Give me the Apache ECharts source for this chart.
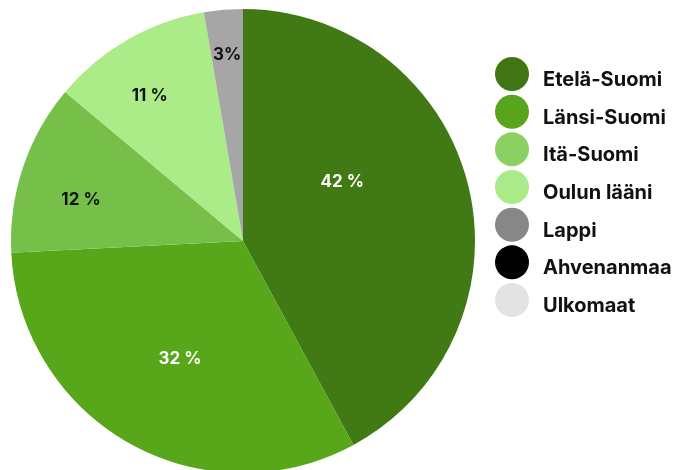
<!DOCTYPE html>
<html>
<head>
<meta charset="utf-8">
<script src="https://cdn.jsdelivr.net/npm/echarts@6/dist/echarts.min.js"></script>
<style>
html,body{margin:0;padding:0;background:#fff;}
#c{width:679px;height:470px;}
</style>
</head>
<body>
<div id="c"></div>
<script>
// ---- data ----
const categories = ['Etelä-Suomi', 'Länsi-Suomi', 'Itä-Suomi', 'Oulun lääni', 'Lappi', 'Ahvenanmaa', 'Ulkomaat'];
const values = [42.1, 32.1, 11.9, 11.2, 2.7, 0, 0];
const labelTexts = ['42 %', '32 %', '12 %', '11 %', '3%', '', ''];

// ---- style ----
const sliceColors = ['#417a14', '#58a61a', '#76c04a', '#acec88', '#a6a6a6', '#000000', '#e3e3e3'];
const legendColors = ['#3f7512', '#58a41a', '#8bd162', '#abea89', '#878787', '#000000', '#e3e3e3'];
const labelColors = ['#ffffff', '#ffffff', '#111111', '#111111', '#111111', '#111111', '#111111'];
const labelRadiusFrac = [0.497, 0.577, 0.72, 0.745, 0.805, 0.8, 0.8];
const labelAngleShift = [-16.4, -1.3, -4.4, -2.8, 0, 0, 0];
const CX = 243, CY = 241, R = 232;
const FONT = 'Inter, Roboto, "Noto Sans", sans-serif';

const total = values.reduce((a, b) => a + b, 0);
const midAngles = [];
let acc = 0;
values.forEach(v => { midAngles.push((acc + v / 2) / total * 360); acc += v; });

const legendBase = {
  orient: 'vertical',
  left: 495,
  padding: 0,
  icon: 'circle',
  itemWidth: 34,
  itemHeight: 34,
  itemGap: 3.67,
  selectedMode: false,
  textStyle: {fontFamily: FONT, fontWeight: 'bold', fontSize: 20, color: '#111111', padding: [0, 0, 0, 9]}
};

const chart = echarts.init(document.getElementById('c'), null, {renderer: 'canvas'});
chart.setOption({
  animation: false,
  backgroundColor: '#ffffff',
  legend: [
    Object.assign({}, legendBase, {
      top: 57,
      formatter: () => '',
      data: categories.map((n, i) => ({name: n, itemStyle: {color: legendColors[i]}}))
    }),
    Object.assign({}, legendBase, {
      top: 63,
      itemStyle: {opacity: 0},
      data: categories.map(n => ({name: n}))
    })
  ],
  series: [{
    type: 'pie',
    center: [CX, CY],
    radius: R,
    startAngle: 90,
    clockwise: true,
    avoidLabelOverlap: false,
    label: {
      show: true,
      position: 'inside',
      fontFamily: FONT,
      fontWeight: 'bold',
      fontSize: 17,
      formatter: p => labelTexts[p.dataIndex]
    },
    labelLine: {show: false},
    labelLayout: function (params) {
      const i = params.dataIndex;
      const a = (midAngles[i] + labelAngleShift[i]) * Math.PI / 180;
      const r = R * labelRadiusFrac[i];
      return {x: CX + r * Math.sin(a), y: CY - r * Math.cos(a), align: 'center', verticalAlign: 'middle'};
    },
    emphasis: {disabled: true},
    itemStyle: {borderWidth: 0},
    data: categories.map((n, i) => ({
      name: n,
      value: values[i],
      itemStyle: {color: sliceColors[i]},
      label: {color: labelColors[i]}
    }))
  }]
});
</script>
</body>
</html>
